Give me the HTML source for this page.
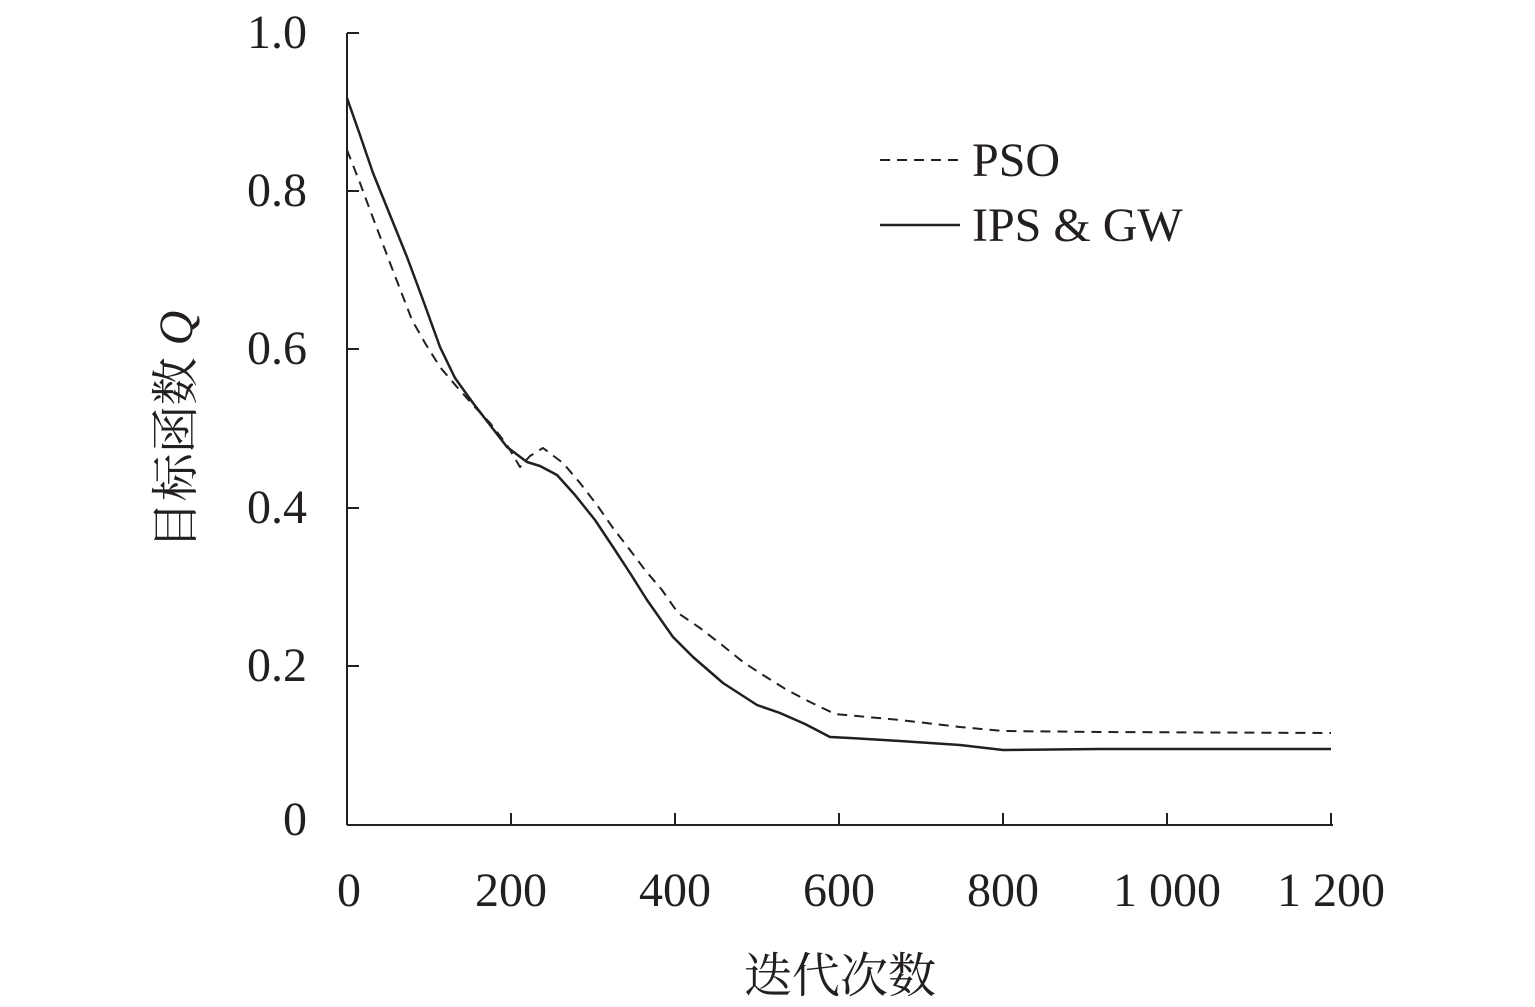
<!DOCTYPE html>
<html><head><meta charset="utf-8"><style>
html,body{margin:0;padding:0;background:#fff;}
svg text{font-family:"Liberation Serif","Noto Serif CJK SC",serif;fill:#231f20;}
</style></head><body>
<svg width="1535" height="1002" viewBox="0 0 1535 1002" xmlns="http://www.w3.org/2000/svg">
<g stroke="#231f20" stroke-width="2" fill="none">
<line x1="347" y1="33" x2="347" y2="825"/>
<line x1="347" y1="825" x2="1333" y2="825"/>
<line x1="347" y1="33" x2="359" y2="33"/>
<line x1="347" y1="191" x2="359" y2="191"/>
<line x1="347" y1="349" x2="359" y2="349"/>
<line x1="347" y1="508" x2="359" y2="508"/>
<line x1="347" y1="666" x2="359" y2="666"/>
<line x1="511" y1="825" x2="511" y2="813"/>
<line x1="675" y1="825" x2="675" y2="813"/>
<line x1="839" y1="825" x2="839" y2="813"/>
<line x1="1003" y1="825" x2="1003" y2="813"/>
<line x1="1167" y1="825" x2="1167" y2="813"/>
<line x1="1331" y1="825" x2="1331" y2="813"/>
</g>
<g font-size="48" text-anchor="end">
<text x="307" y="48">1.0</text>
<text x="307" y="206">0.8</text>
<text x="307" y="364">0.6</text>
<text x="307" y="523">0.4</text>
<text x="307" y="681">0.2</text>
<text x="307" y="835">0</text>
</g>
<g font-size="48" text-anchor="middle">
<text x="349" y="906">0</text>
<text x="511" y="906">200</text>
<text x="675" y="906">400</text>
<text x="839" y="906">600</text>
<text x="1003" y="906">800</text>
<text x="1167" y="906">1 000</text>
<text x="1331" y="906">1 200</text>
<text x="840" y="992">迭代次数</text>
</g>
<text font-size="48" text-anchor="middle" transform="translate(192,430) rotate(-90)">目标函数 <tspan font-style="italic">Q</tspan></text>
<polyline points="347,150 360,183 370,210 390,263 412,320 425,343 440,367 457,387 473,405 490,423 507,445 520,467 530,456 543,448 563,463 580,483 597,505 613,528 630,550 645,570 662,590 678,613 700,628 722,645 743,662 763,675 787,690 810,702 835,714 900,720 960,727 1003,731 1100,732 1331,733" fill="none" stroke="#231f20" stroke-width="2" stroke-dasharray="10,7" stroke-linejoin="round"/>
<polyline points="347,98 360,135 373,173 390,215 407,257 423,300 440,347 455,378 473,403 490,425 507,447 527,462 540,466 557,475 575,495 595,520 613,547 630,573 647,600 673,637 693,657 723,683 757,705 780,713 805,724 830,737 850,738 900,741 960,745 1003,750 1100,749 1331,749" fill="none" stroke="#231f20" stroke-width="2.5" stroke-linejoin="round"/>
<line x1="880" y1="160" x2="960" y2="160" stroke="#231f20" stroke-width="2" stroke-dasharray="10,7"/>
<line x1="880" y1="225" x2="960" y2="225" stroke="#231f20" stroke-width="2.5"/>
<text x="972" y="176" font-size="48">PSO</text>
<text x="972" y="241" font-size="48">IPS &amp; GW</text>
</svg>
</body></html>
